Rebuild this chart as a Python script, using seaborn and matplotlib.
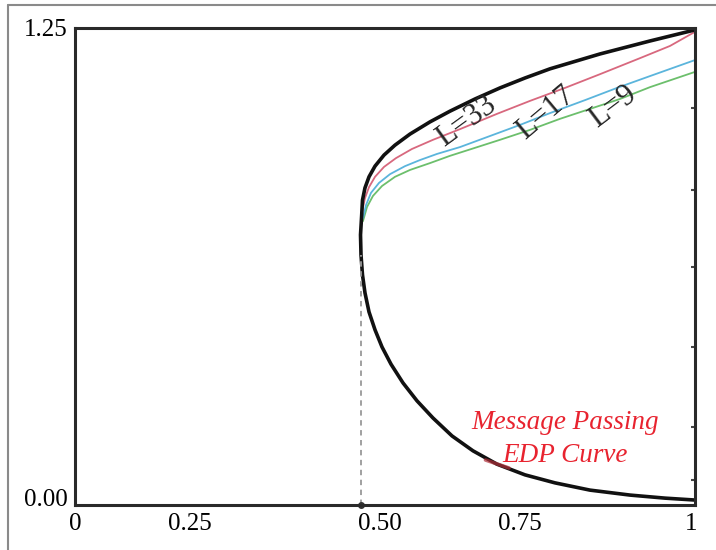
import matplotlib
matplotlib.use("Agg")
import matplotlib.pyplot as plt
from matplotlib.lines import Line2D
from matplotlib.ticker import FixedLocator
import seaborn as sns

# ---- data (x in axis units 0..1, y 0..1.25) ----
# EDP curve, traced from the top-right end round the nose to the bottom-right end
edp_x = [1.000, 0.9274, 0.8468, 0.7661, 0.7258, 0.6855, 0.6452, 0.6048, 0.5726,
         0.5403, 0.5161, 0.4984, 0.4839, 0.4742, 0.4677, 0.4637, 0.4624,
         0.4605, 0.4613, 0.4637, 0.4677, 0.4742, 0.4839, 0.4952, 0.5097, 0.5290,
         0.5516, 0.5774, 0.6081, 0.6419, 0.6806, 0.7258, 0.7742, 0.8306, 0.8952,
         0.9516, 1.000]
edp_y = [1.245, 1.216, 1.182, 1.143, 1.119, 1.093, 1.064, 1.032, 1.004,
         0.972, 0.943, 0.917, 0.888, 0.860, 0.831, 0.799, 0.760,
         0.708, 0.655, 0.603, 0.556, 0.506, 0.459, 0.414, 0.369, 0.320,
         0.273, 0.228, 0.181, 0.142, 0.107, 0.079, 0.058, 0.039, 0.026,
         0.018, 0.013]

l33_x = [0.4629, 0.4677, 0.4742, 0.4839, 0.4984, 0.5177, 0.5435, 0.5774, 0.6210,
         0.6806, 0.7339, 0.7903, 0.8468, 0.9113, 0.9597, 1.000]
l33_y = [0.768, 0.804, 0.833, 0.860, 0.886, 0.909, 0.933, 0.957, 0.985,
         1.025, 1.059, 1.093, 1.129, 1.171, 1.203, 1.240]

l17_x = [0.4645, 0.4694, 0.4774, 0.4903, 0.5081, 0.5323, 0.5565, 0.5839, 0.6210,
         0.6694, 0.7177, 0.7661, 0.8226, 0.8742, 0.9274, 1.000]
l17_y = [0.752, 0.786, 0.818, 0.844, 0.867, 0.888, 0.904, 0.920, 0.938,
         0.967, 0.996, 1.027, 1.061, 1.093, 1.124, 1.166]

l9_x = [0.4645, 0.4710, 0.4806, 0.4952, 0.5161, 0.5403, 0.5726, 0.6048, 0.6452,
        0.6855, 0.7339, 0.7823, 0.8306, 0.8790, 0.9274, 1.000]
l9_y = [0.744, 0.781, 0.810, 0.836, 0.860, 0.878, 0.896, 0.915, 0.936,
        0.957, 0.983, 1.012, 1.038, 1.064, 1.095, 1.135]

# short reddish stroke on the lower branch
mark_x = [0.662, 0.680, 0.700]
mark_y = [0.118, 0.108, 0.097]

threshold_x = 0.461
threshold_top = 0.655

xtick_pos = [0.0, 0.185, 0.491, 0.718, 0.993]
xtick_labels = ["0", "0.25", "0.50", "0.75", "1"]
ytick_pos = [0.02, 1.25]
ytick_labels = ["0.00", "1.25"]
right_marks = [0.066, 0.204, 0.414, 0.624, 0.825, 1.040]

sns.set_theme(style="white")
plt.rcParams["font.family"] = ["Liberation Serif", "DejaVu Serif"]

fig = plt.figure(figsize=(7.16, 5.5), dpi=100)
ax = fig.add_axes([75 / 716, 45 / 550, 620 / 716, 477 / 550])

curves = [
    (l9_x, l9_y, "#6cbf6c"),
    (l17_x, l17_y, "#5bb5dc"),
    (l33_x, l33_y, "#d8687e"),
]
for xs, ys, col in curves:
    sns.lineplot(x=xs, y=ys, sort=False, estimator=None, color=col, lw=1.3, ax=ax)

sns.lineplot(x=edp_x, y=edp_y, sort=False, estimator=None, color="#111111", lw=2.6, ax=ax)
sns.lineplot(x=mark_x, y=mark_y, sort=False, estimator=None, color="#b0303a", lw=2.6,
             alpha=0.7, ax=ax)

ax.plot([threshold_x, threshold_x], [0, threshold_top], ls=(0, (3, 2.5)), color="#999999", lw=1.3)
ax.plot([threshold_x], [0], marker="o", ms=4, color="#333333", clip_on=False)

ax.set_xlim(0, 1)
ax.set_ylim(0, 1.25)
ax.set_xticks(xtick_pos)
ax.set_xticklabels(xtick_labels)
ax.set_yticks(ytick_pos)
ax.set_yticklabels(ytick_labels)
ax.tick_params(axis="both", length=0, labelsize=18, colors="black")
ax.tick_params(axis="x", pad=6)
ax.tick_params(axis="y", pad=5)
ax.yaxis.set_minor_locator(FixedLocator(right_marks))
ax.tick_params(axis="y", which="minor", left=False, right=True, direction="in",
               length=3, width=1.5, color="#444444")
ax.set_xlabel("")
ax.set_ylabel("")
for s in ax.spines.values():
    s.set_visible(True)
    s.set_color("#2a2a2a")
    s.set_linewidth(2.2)

ax.text(0.632, 1.005, "L=33", rotation=36, fontsize=22, ha="center", va="center")
ax.text(0.760, 1.028, "L=17", rotation=40, fontsize=22, ha="center", va="center")
ax.text(0.868, 1.044, "L=9", rotation=37, fontsize=22, ha="center", va="center")

ax.text(0.790, 0.215, "Message Passing", color="#e8232f", fontsize=19.5,
        style="italic", ha="center", va="center")
ax.text(0.790, 0.131, "EDP Curve", color="#e8232f", fontsize=19.5,
        style="italic", ha="center", va="center")

# outer frame lines (top and left)
fig.add_artist(Line2D([8 / 716, 1.0], [1 - 5 / 550, 1 - 5 / 550], color="#8a8a8a", lw=1.5,
                      transform=fig.transFigure))
fig.add_artist(Line2D([8 / 716, 8 / 716], [0.0, 1 - 5 / 550], color="#8a8a8a", lw=1.5,
                      transform=fig.transFigure))

fig.savefig("out.png", dpi=100)
